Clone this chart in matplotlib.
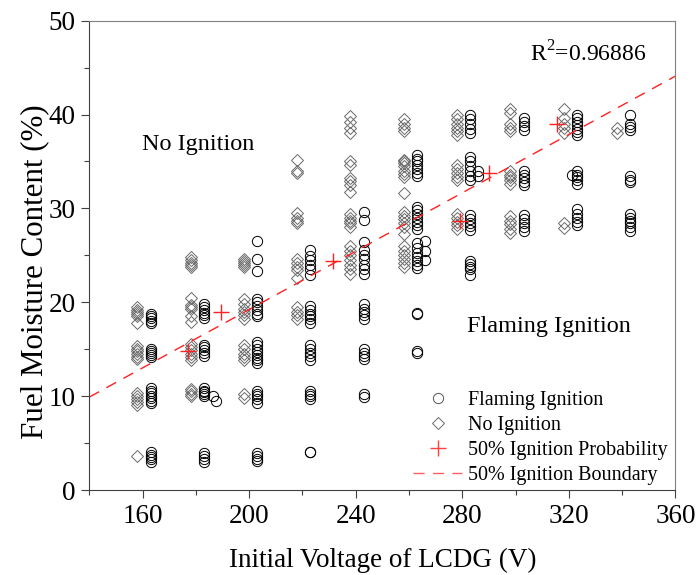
import matplotlib

matplotlib.use("Agg")
import matplotlib.pyplot as plt
from matplotlib.lines import Line2D
from matplotlib.ticker import MultipleLocator

plt.rcParams["font.family"] = ["Liberation Serif", "DejaVu Serif"]
plt.rcParams["mathtext.fontset"] = "custom"
plt.rcParams["mathtext.rm"] = "Liberation Serif"

# No ignition (diamonds): moisture values per voltage column
NO_158 = [19.5, 19.2, 19.0, 18.8, 18.5, 17.8, 15.3, 15.0, 14.8, 14.5, 14.2, 14.0,
          10.3, 10.0, 9.7, 9.4, 9.1, 3.65]
NO_178 = [24.8, 24.5, 24.2, 24.0, 23.8, 20.5, 19.7, 19.5, 19.3, 18.5, 17.9, 15.6,
          15.2, 14.9, 14.5, 14.2, 13.8, 10.8, 10.5, 10.2, 10.0]
NO_198 = [24.6, 24.4, 24.2, 24.0, 23.8, 20.4, 19.8, 19.3, 19.0, 18.6, 18.2, 15.5,
          15.0, 14.5, 14.2, 13.8, 10.2, 9.8]
NO_218 = [35.2, 34.0, 33.8, 29.5, 29.0, 28.7, 28.4, 24.6, 24.2, 23.8, 23.4, 22.6,
          19.5, 19.0, 18.6, 18.2]
NO_238 = [39.8, 39.2, 38.6, 38.0, 35.0, 34.6, 33.2, 32.9, 32.5, 31.7, 29.4, 29.0,
          28.7, 28.4, 28.0, 26.0, 25.5, 25.0, 24.5, 24.0, 23.5, 23.0]
NO_258 = [39.5, 39.0, 38.6, 38.2, 35.2, 35.0, 34.8, 34.5, 34.0, 33.7, 33.4, 31.6,
          29.6, 29.2, 28.9, 28.5, 28.0, 27.3, 26.0, 25.5, 25.0, 24.6, 24.2, 23.8]
NO_278 = [40.0, 39.5, 39.0, 38.6, 38.2, 37.8, 34.6, 34.2, 33.8, 33.4, 33.0, 29.4,
          29.0, 28.6, 28.2, 27.8]
NO_298 = [40.6, 40.2, 39.0, 38.6, 38.3, 34.0, 33.6, 33.3, 33.0, 32.6, 29.2, 28.7,
          28.3, 27.8, 27.4]
NO_318 = [40.6, 39.6, 39.0, 38.6, 38.0, 28.5, 27.9]
NO_338 = [38.6, 38.0]

# Flaming ignition (circles)
FL_163 = [18.7, 18.5, 18.3, 18.0, 17.8, 15.0, 14.8, 14.6, 14.4, 14.2, 10.9, 10.6,
          10.3, 10.0, 9.8, 9.5, 9.3, 4.0, 3.7, 3.5, 3.3, 3.0]
FL_183 = [19.8, 19.5, 19.2, 18.9, 18.6, 18.3, 15.5, 15.2, 14.9, 14.6, 14.3, 10.9,
          10.6, 10.4, 10.2, 10.0, 3.9, 3.6, 3.3, 3.0]
FL_203 = [26.5, 24.6, 23.3, 20.4, 20.0, 19.6, 19.2, 18.8, 18.5, 15.8, 15.4, 15.0,
          14.7, 14.4, 14.1, 13.8, 13.5, 10.5, 10.2, 10.0, 9.7, 9.3, 3.9, 3.6, 3.3, 3.1]
FL_223 = [25.6, 24.9, 24.5, 24.0, 23.5, 22.9, 19.6, 19.2, 18.8, 18.5, 18.2, 17.8,
          15.4, 15.0, 14.6, 14.3, 13.8, 10.5, 10.2, 10.0, 9.7, 4.0, 4.0]
FL_243 = [29.6, 28.8, 26.4, 25.6, 25.0, 24.6, 24.0, 23.5, 23.0, 19.8, 19.3, 19.0,
          18.6, 18.2, 15.0, 14.6, 14.3, 14.0, 10.2, 9.9]
FL_263 = [35.7, 35.3, 35.0, 34.6, 34.2, 33.8, 33.5, 30.2, 29.8, 29.4, 29.0, 28.6,
          28.2, 27.8, 26.3, 25.8, 25.3, 24.8, 24.4, 24.0, 23.6, 18.9, 18.7, 14.8, 14.6]
FL_283 = [40.0, 39.5, 39.0, 38.5, 38.0, 35.5, 35.0, 34.5, 34.0, 33.5, 33.0, 29.3,
          28.9, 28.5, 28.1, 27.7, 24.4, 24.1, 23.8, 23.5, 22.9]
FL_303 = [39.6, 39.2, 38.8, 38.4, 34.0, 33.6, 33.2, 32.8, 32.5, 29.3, 28.9, 28.5,
          28.0, 27.6]
FL_323 = [40.0, 39.6, 39.2, 38.9, 38.5, 38.1, 37.8, 34.0, 33.6, 33.3, 33.0, 32.6,
          29.9, 29.4, 29.0, 28.6, 28.2]
FL_343 = [40.0, 39.0, 38.7, 38.4, 33.5, 33.0, 32.8, 29.4, 29.0, 28.7, 28.4, 28.0, 27.6]
# a few circles sitting slightly off their column
FL_OFF_V = [186.5, 187.5, 266, 266, 266, 286, 286, 321]
FL_OFF_M = [10.0, 9.5, 26.5, 25.5, 24.5, 34.0, 33.5, 33.6]

NO_COLUMNS = [(158, NO_158), (178, NO_178), (198, NO_198), (218, NO_218), (238, NO_238),
              (258, NO_258), (278, NO_278), (298, NO_298), (318, NO_318), (338, NO_338)]
FL_COLUMNS = [(163, FL_163), (183, FL_183), (203, FL_203), (223, FL_223), (243, FL_243),
              (263, FL_263), (283, FL_283), (303, FL_303), (323, FL_323), (343, FL_343)]

# 50% ignition probability points and fitted boundary
P50_V = [177, 189.5, 231.5, 279, 290, 315.5]
P50_M = [14.8, 19.0, 24.4, 28.7, 33.8, 39.0]
BOUND_V = [140, 360]
BOUND_M = [9.9, 44.1]

no_v = [v for v, ms in NO_COLUMNS for _ in ms]
no_m = [m for _, ms in NO_COLUMNS for m in ms]
fl_v = [v for v, ms in FL_COLUMNS for _ in ms] + FL_OFF_V
fl_m = [m for _, ms in FL_COLUMNS for m in ms] + FL_OFF_M

fig, ax = plt.subplots(figsize=(6.97, 5.75), dpi=100)
fig.subplots_adjust(left=0.1281, right=0.9691, bottom=0.1478, top=0.964)

ax.plot(no_v, no_m, linestyle="none", marker="D", markersize=6.2,
        markerfacecolor="none", markeredgecolor="#6a6a6a", markeredgewidth=0.7)
ax.plot(fl_v, fl_m, linestyle="none", marker="o", markersize=7.4,
        markerfacecolor="none", markeredgecolor="black", markeredgewidth=0.7)
ax.plot(BOUND_V, BOUND_M, color="#ff2020", linewidth=1.0, dashes=(8, 6))
ax.plot(P50_V, P50_M, linestyle="none", marker="+", markersize=11,
        markeredgecolor="#ff2020", markeredgewidth=1.0)

ax.set_xlim(140, 360)
ax.set_ylim(0, 50)
ax.xaxis.set_major_locator(MultipleLocator(40))
ax.xaxis.set_minor_locator(MultipleLocator(20))
ax.yaxis.set_major_locator(MultipleLocator(10))
ax.yaxis.set_minor_locator(MultipleLocator(5))
ax.set_xticks(range(160, 361, 40))
ax.tick_params(which="major", direction="out", length=6, width=0.8, labelsize=19.5,
               color="#404040", pad=4)
ax.tick_params(which="minor", direction="out", length=3.5, width=0.8, color="#404040")
for side in ["left", "bottom"]:
    ax.spines[side].set_color("#404040")
for side in ["top", "right"]:
    ax.spines[side].set_color("#808080")

ax.set_xlabel("Initial Voltage of LCDG (V)", fontsize=19.5, labelpad=14)
ax.set_ylabel("Fuel Moisture Content (%)", fontsize=22.3)
ax.yaxis.set_label_coords(-0.068, 0.4645)

ax.text(159.6, 36.8, "No Ignition", fontsize=17.5, va="center", ha="left")
ax.text(281.6, 17.4, "Flaming Ignition", fontsize=17.5, va="center", ha="left")
ax.text(349.2, 46.5, r"R$^2$=0.96886", fontsize=17, va="center", ha="right")

handles = [
    Line2D([], [], linestyle="none", marker="o", markersize=7.4, markerfacecolor="none",
           markeredgecolor="#555555", markeredgewidth=0.7),
    Line2D([], [], linestyle="none", marker="D", markersize=6.2, markerfacecolor="none",
           markeredgecolor="#6a6a6a", markeredgewidth=0.7),
    Line2D([], [], linestyle="none", marker="+", markersize=11,
           markeredgecolor="#ff4040", markeredgewidth=1.0),
    Line2D([], [], color="#ff6060", linewidth=1.0, dashes=(8, 6)),
]
labels = ["Flaming Ignition", "No Ignition", "50% Ignition Probability",
          "50% Ignition Boundary"]
ax.legend(handles, labels, loc="upper left", bbox_to_anchor=(0.553, 0.211),
          frameon=False, fontsize=14.5, borderpad=0, borderaxespad=0,
          handlelength=2.4, handletextpad=0.3, labelspacing=0.29)

fig.savefig("out.png", dpi=100)
